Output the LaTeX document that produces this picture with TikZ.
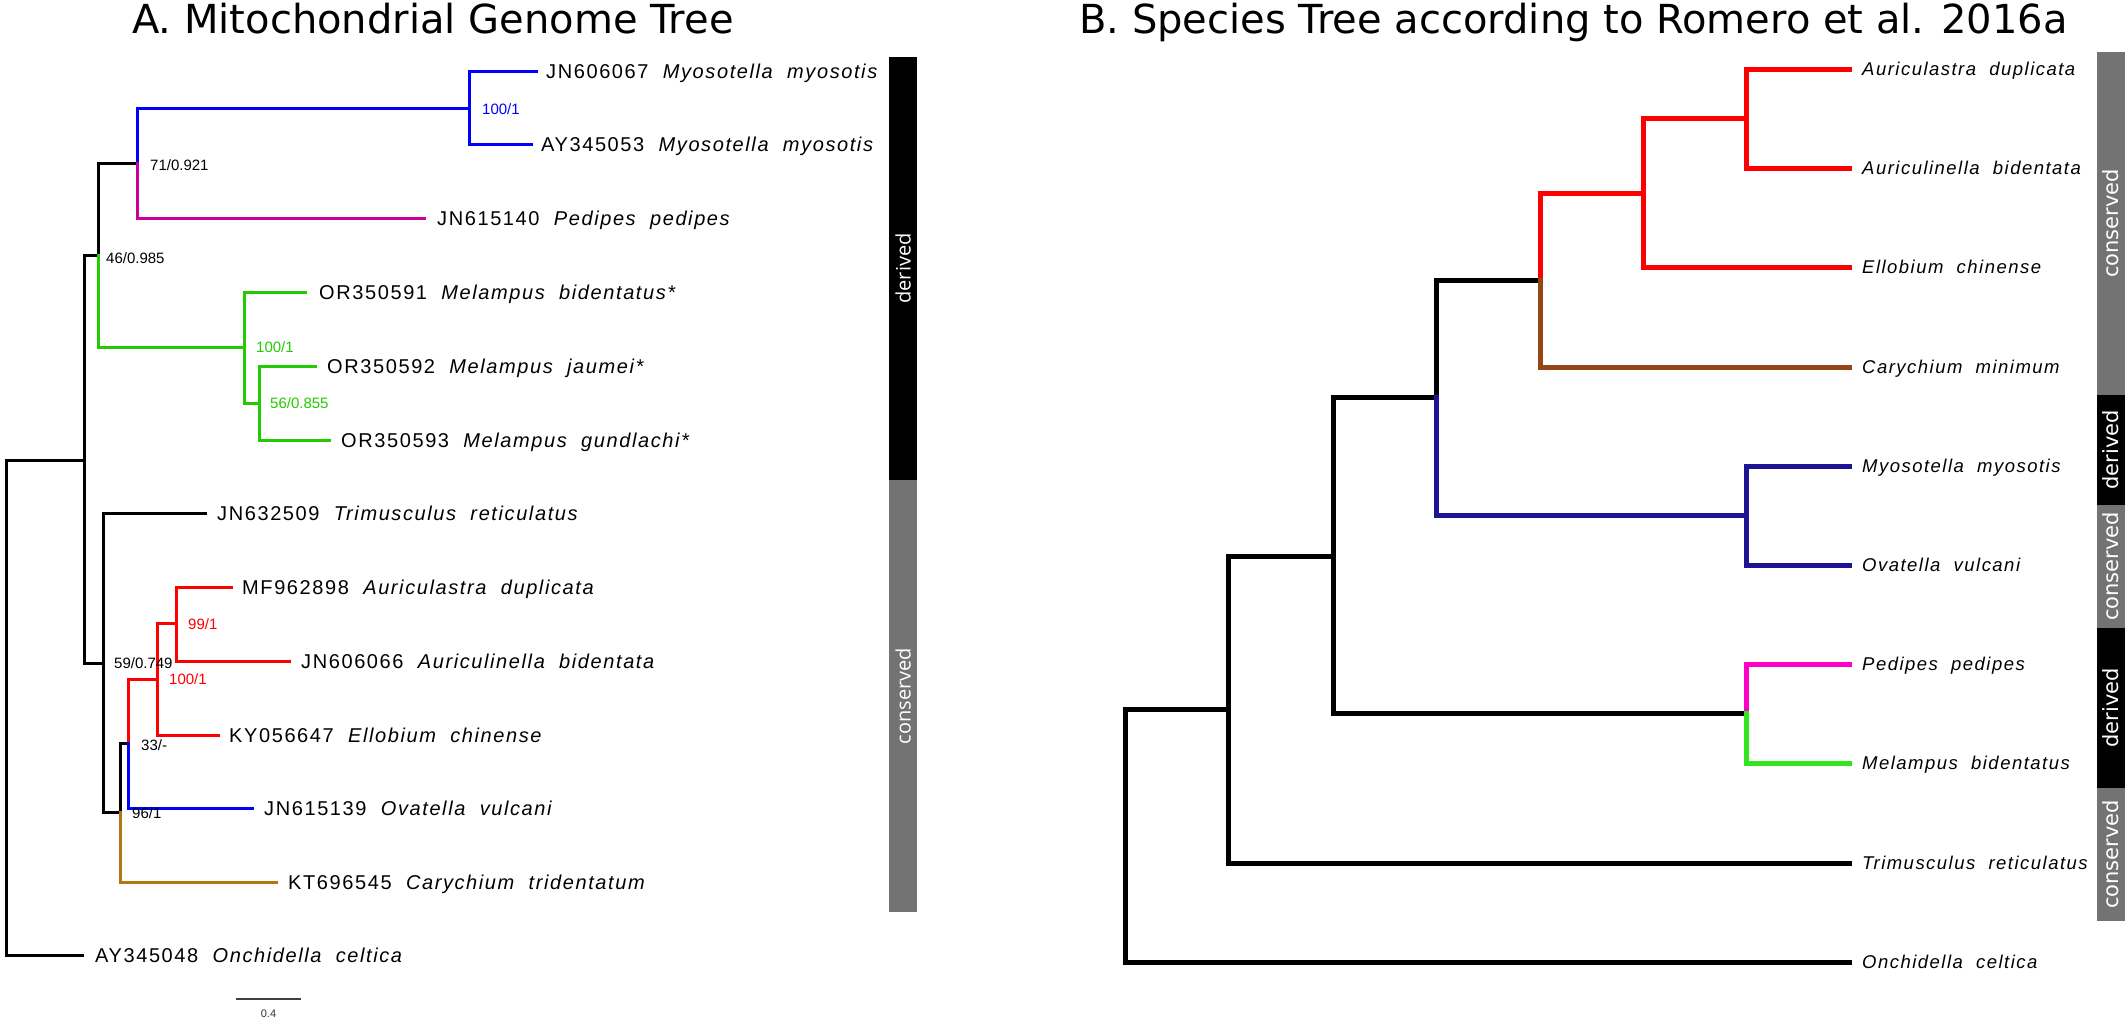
\documentclass[tikz,border=0pt]{standalone}
\usepackage{fontspec}
\setmainfont{Liberation Sans}
\newfontfamily\labAfont[LetterSpace=8]{Liberation Sans}
\newfontfamily\titfont{DejaVu Sans}
\newfontfamily\barAfont{Open Sans}
\newfontfamily\barBfont{DejaVu Sans}
\definecolor{aBlue}{RGB}{0,0,255}
\definecolor{aMag}{RGB}{204,0,153}
\definecolor{aGreen}{RGB}{34,204,0}
\definecolor{aRed}{RGB}{255,0,0}
\definecolor{aBrown}{RGB}{176,120,16}
\definecolor{bNavy}{RGB}{30,20,150}
\definecolor{bBrown}{RGB}{150,70,20}
\definecolor{bMag}{RGB}{255,0,200}
\definecolor{bGreen}{RGB}{50,230,30}
\definecolor{barGray}{RGB}{115,115,115}
\begin{document}
\begin{tikzpicture}[x=1pt,y=-1pt,
  treeA/.style={line width=3pt, line cap=rect},
  treeB/.style={line width=5pt, line cap=rect},
  leafA/.style={anchor=base west, inner sep=0pt, font=\labAfont\fontsize{20}{24}\selectfont},
  leafB/.style={anchor=base west, inner sep=0pt, font=\labAfont\fontsize{18.5}{22}\selectfont\itshape},
  sup/.style={anchor=base west, inner sep=0pt, font=\fontsize{15}{18}\selectfont},
  ttl/.style={anchor=base west, inner sep=0pt, font=\titfont\fontsize{40}{48}\selectfont},
  barA/.style={rotate=90, inner sep=0pt, text=white, minimum height=28pt, font=\barAfont\fontsize{20}{24}\selectfont},
  barB/.style={rotate=90, inner sep=0pt, text=white, minimum height=28pt, font=\barBfont\fontsize{21}{25}\selectfont}
]
\path[use as bounding box] (0,0) rectangle (2128,1021);

% ---------------- Titles ----------------
\node[ttl] (tA) at (132,33) {A. Mitochondrial Genome Tree};
\node[ttl] (tB) at (1079,33) {B. Species Tree according to Romero et al. 2016a};

% ---------------- Panel A coordinates ----------------
\coordinate (a0) at (6,707);
\coordinate (a1) at (84,460);
\coordinate (a46) at (98,255);
\coordinate (a71) at (137,163);
\coordinate (aMy) at (469,108);
\coordinate (l1) at (536,71);
\coordinate (l2) at (531,144);
\coordinate (lPed) at (424,218);
\coordinate (aG1) at (244,347);
\coordinate (lMb) at (305,292);
\coordinate (aG2) at (259,403);
\coordinate (lMj) at (315,366);
\coordinate (lMg) at (329,440);
\coordinate (a59) at (103,663);
\coordinate (lTri) at (205,513);
\coordinate (a96) at (120,812);
\coordinate (a33) at (128,743);
\coordinate (aR1) at (157,679);
\coordinate (aR2) at (176,623);
\coordinate (lAd) at (231,587);
\coordinate (lAb) at (289,661);
\coordinate (lEll) at (218,735);
\coordinate (lOva) at (252,808);
\coordinate (lCar) at (276,882);
\coordinate (lOnc) at (82,955);

% ---------------- Panel A branches ----------------
\draw[treeA] (a0) |- (a1);
\draw[treeA] (a0) |- (lOnc);
\draw[treeA] (a1) |- (a46);
\draw[treeA] (a1) |- (a59);
\draw[treeA] (a46) |- (a71);
\draw[treeA, aGreen] (a46) |- (aG1);
\draw[treeA, aBlue] (a71) |- (aMy);
\draw[treeA, aMag] (a71) |- (lPed);
\draw[treeA, aBlue] (aMy) |- (l1);
\draw[treeA, aBlue] (aMy) |- (l2);
\draw[treeA, aGreen] (aG1) |- (lMb);
\draw[treeA, aGreen] (aG1) |- (aG2);
\draw[treeA, aGreen] (aG2) |- (lMj);
\draw[treeA, aGreen] (aG2) |- (lMg);
\draw[treeA] (a59) |- (lTri);
\draw[treeA] (a59) |- (a96);
\draw[treeA] (a96) |- (a33);
\draw[treeA, aBrown] (a96) |- (lCar);
\draw[treeA, aRed] (a33) |- (aR1);
\draw[treeA, aBlue] (a33) |- (lOva);
\draw[treeA, aRed] (aR1) |- (aR2);
\draw[treeA, aRed] (aR1) |- (lEll);
\draw[treeA, aRed] (aR2) |- (lAd);
\draw[treeA, aRed] (aR2) |- (lAb);

% ---------------- Panel A leaf labels ----------------
\node[leafA] (t1) at ([shift={(10,7)}]l1) {JN606067\ \ \textit{Myosotella\ \ myosotis}};
\node[leafA] (t2) at ([shift={(10,7)}]l2) {AY345053\ \ \textit{Myosotella\ \ myosotis}};
\node[leafA] (tPed) at ([shift={(13,7)}]lPed) {JN615140\ \ \textit{Pedipes\ \ pedipes}};
\node[leafA] (tMb) at ([shift={(14,7)}]lMb) {OR350591\ \ \textit{Melampus\ \ bidentatus*}};
\node[leafA] (tMj) at ([shift={(12,7)}]lMj) {OR350592\ \ \textit{Melampus\ \ jaumei*}};
\node[leafA] (tMg) at ([shift={(12,7)}]lMg) {OR350593\ \ \textit{Melampus\ \ gundlachi*}};
\node[leafA] (tTri) at ([shift={(12,7)}]lTri) {JN632509\ \ \textit{Trimusculus\ \ reticulatus}};
\node[leafA] (tAd) at ([shift={(11,7)}]lAd) {MF962898\ \ \textit{Auriculastra\ \ duplicata}};
\node[leafA] (tAb) at ([shift={(12,7)}]lAb) {JN606066\ \ \textit{Auriculinella\ \ bidentata}};
\node[leafA] (tEll) at ([shift={(11,7)}]lEll) {KY056647\ \ \textit{Ellobium\ \ chinense}};
\node[leafA] (tOva) at ([shift={(12,7)}]lOva) {JN615139\ \ \textit{Ovatella\ \ vulcani}};
\node[leafA] (tCar) at ([shift={(12,7)}]lCar) {KT696545\ \ \textit{Carychium\ \ tridentatum}};
\node[leafA] (tOnc) at ([shift={(13,7)}]lOnc) {AY345048\ \ \textit{Onchidella\ \ celtica}};

% ---------------- Panel A support values ----------------
\node[sup, text=aBlue] (sMy) at ([shift={(13,6.5)}]aMy) {100/1};
\node[sup] (s71) at ([shift={(13,7.5)}]a71) {71/0.921};
\node[sup] (s46) at ([shift={(8,8.5)}]a46) {46/0.985};
\node[sup, text=aGreen] (sG1) at ([shift={(12,5.5)}]aG1) {100/1};
\node[sup, text=aGreen] (sG2) at ([shift={(11,5.5)}]aG2) {56/0.855};
\node[sup] (s59) at ([shift={(11,5.5)}]a59) {59/0.749};
\node[sup, text=aRed] (sR2) at ([shift={(12,6.5)}]aR2) {99/1};
\node[sup, text=aRed] (sR1) at ([shift={(12,5.5)}]aR1) {100/1};
\node[sup] (s33) at ([shift={(13,7.5)}]a33) {33/-};
\node[sup] (s96) at ([shift={(12,6.5)}]a96) {96/1};

% ---------------- Scale bar ----------------
\coordinate (sb1) at (236,999);
\coordinate (sb2) at (301,999);
\draw[line width=1.2pt, black!75] (sb1) -- (sb2);
\node[anchor=base, inner sep=0pt, font=\fontsize{11}{13}\selectfont, text=black!80] (sbl) at (268.5,1017) {0.4};

% ---------------- Panel A bars ----------------
\node[barA, fill=black, minimum width=423pt] (dA) at (903,268.5) {derived};
\node[barA, fill=barGray, minimum width=432pt] (cA) at (903,696) {conserved};

% ---------------- Panel B coordinates ----------------
\coordinate (b0) at (1125,835);
\coordinate (b1) at (1228,709);
\coordinate (b2) at (1333,556);
\coordinate (b3) at (1436,397);
\coordinate (b4) at (1540,280);
\coordinate (b5) at (1643,193);
\coordinate (b6) at (1746,118);
\coordinate (b7) at (1746,515);
\coordinate (b8) at (1746,713);
\coordinate (mAd) at (1849,69);
\coordinate (mAb) at (1849,168);
\coordinate (mEll) at (1849,267);
\coordinate (mCar) at (1849,367);
\coordinate (mMyo) at (1849,466);
\coordinate (mOva) at (1849,565);
\coordinate (mPed) at (1849,664);
\coordinate (mMel) at (1849,763);
\coordinate (mTri) at (1849,863);
\coordinate (mOnc) at (1849,962);

% ---------------- Panel B branches ----------------
\draw[treeB] (b0) |- (b1);
\draw[treeB] (b0) |- (mOnc);
\draw[treeB] (b1) |- (b2);
\draw[treeB] (b1) |- (mTri);
\draw[treeB] (b2) |- (b3);
\draw[treeB] (b2) |- (b8);
\draw[treeB] (b3) |- (b4);
\draw[treeB, bNavy] (b3) |- (b7);
\draw[treeB, aRed] (b4) |- (b5);
\draw[treeB, bBrown] (b4) |- (mCar);
\draw[treeB, aRed] (b5) |- (b6);
\draw[treeB, aRed] (b5) |- (mEll);
\draw[treeB, aRed] (b6) |- (mAd);
\draw[treeB, aRed] (b6) |- (mAb);
\draw[treeB, bNavy] (b7) |- (mMyo);
\draw[treeB, bNavy] (b7) |- (mOva);
\draw[treeB, bMag] (b8) |- (mPed);
\draw[treeB, bGreen] (b8) |- (mMel);

% ---------------- Panel B labels ----------------
\node[leafB] (uAd) at ([shift={(13,6.6)}]mAd) {Auriculastra\ \ duplicata};
\node[leafB] (uAb) at ([shift={(13,6.6)}]mAb) {Auriculinella\ \ bidentata};
\node[leafB] (uEll) at ([shift={(13,6.6)}]mEll) {Ellobium\ \ chinense};
\node[leafB] (uCar) at ([shift={(13,6.6)}]mCar) {Carychium\ \ minimum};
\node[leafB] (uMyo) at ([shift={(13,6.6)}]mMyo) {Myosotella\ \ myosotis};
\node[leafB] (uOva) at ([shift={(13,6.6)}]mOva) {Ovatella\ \ vulcani};
\node[leafB] (uPed) at ([shift={(13,6.6)}]mPed) {Pedipes\ \ pedipes};
\node[leafB] (uMel) at ([shift={(13,6.6)}]mMel) {Melampus\ \ bidentatus};
\node[leafB] (uTri) at ([shift={(13,6.6)}]mTri) {Trimusculus\ \ reticulatus};
\node[leafB] (uOnc) at ([shift={(13,6.6)}]mOnc) {Onchidella\ \ celtica};

% ---------------- Panel B bars ----------------
\node[barB, fill=barGray, minimum width=343pt] (g1) at (2111,223.5) {conserved};
\node[barB, fill=black, minimum width=110pt] (d1) at (2111,450) {derived};
\node[barB, fill=barGray, minimum width=123pt] (g2) at (2111,566.5) {conserved};
\node[barB, fill=black, minimum width=160pt] (d2) at (2111,708) {derived};
\node[barB, fill=barGray, minimum width=133pt] (g3) at (2111,854.5) {conserved};
\end{tikzpicture}
\end{document}
